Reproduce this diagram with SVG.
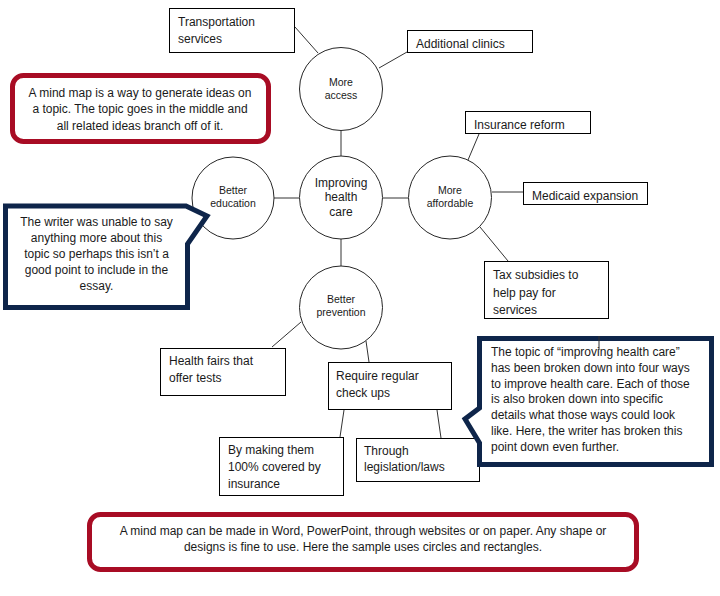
<svg xmlns="http://www.w3.org/2000/svg" width="720" height="596" viewBox="0 0 720 596">
<style>
text{font-family:"Liberation Sans",Arial,sans-serif;fill:#1a1a1a;font-size:12px}
.c{fill:#fff;stroke:#262626;stroke-width:1}
.b{fill:#fff;stroke:#000;stroke-width:1}
.l{stroke:#333;stroke-width:1;fill:none}
.s{font-size:10.5px}
.m{text-anchor:middle}
.red{fill:#fff;stroke:#A80C24;stroke-width:5}
.navy{fill:#fff;stroke:#0E254A;stroke-width:5;stroke-linejoin:miter}
</style>
<rect width="720" height="596" fill="#fff"/>
<g id="connectors">
<line class="l" x1="295" y1="27" x2="318" y2="53"/>
<line class="l" x1="407" y1="52" x2="379" y2="68"/>
<line class="l" x1="341" y1="131" x2="341" y2="156"/>
<line class="l" x1="274" y1="198" x2="299" y2="198"/>
<line class="l" x1="383" y1="198" x2="408" y2="198"/>
<line class="l" x1="341" y1="239" x2="341" y2="266"/>
<line class="l" x1="479" y1="134" x2="468" y2="160"/>
<line class="l" x1="492" y1="192" x2="523" y2="192"/>
<line class="l" x1="480" y1="227" x2="508" y2="261"/>
<line class="l" x1="272" y1="347" x2="301" y2="322"/>
<line class="l" x1="366" y1="341" x2="369" y2="362"/>
<line class="l" x1="344" y1="410" x2="340" y2="437"/>
<line class="l" x1="437" y1="410" x2="441" y2="438"/>
</g>
<g id="note-top">
<rect class="red" x="12.5" y="75.5" width="256" height="66" rx="11"/>
<text class="m" x="140" y="97">A mind map is a way to generate ideas on</text>
<text class="m" x="140" y="113">a topic. The topic goes in the middle and</text>
<text class="m" x="140" y="130">all related ideas branch off of it.</text>
</g>
<g id="transportation">
<rect class="b" x="169.5" y="8.5" width="125" height="44"/>
<text x="178" y="26">Transportation</text>
<text x="178" y="43">services</text>
</g>
<g id="clinics">
<rect class="b" x="407.5" y="30.5" width="125" height="22"/>
<text x="416" y="48">Additional clinics</text>
</g>
<g id="more-access">
<circle class="c" cx="341" cy="89" r="41.5"/>
<text class="s m" x="341" y="86">More</text>
<text class="s m" x="341" y="99">access</text>
</g>
<g id="improving">
<circle class="c" cx="341" cy="197.5" r="41.5"/>
<text class="m" x="341" y="187">Improving</text>
<text class="m" x="341" y="201">health</text>
<text class="m" x="341" y="216">care</text>
</g>
<g id="better-education">
<circle class="c" cx="233" cy="198" r="41"/>
<text class="s m" x="233" y="194">Better</text>
<text class="s m" x="233" y="207">education</text>
</g>
<g id="more-affordable">
<circle class="c" cx="450" cy="197.5" r="41.5"/>
<text class="s m" x="450" y="194">More</text>
<text class="s m" x="450" y="207">affordable</text>
</g>
<g id="insurance">
<rect class="b" x="465.5" y="111.5" width="125" height="22"/>
<text x="474" y="129">Insurance reform</text>
</g>
<g id="medicaid">
<rect class="b" x="523.5" y="182.5" width="124" height="22"/>
<text x="532" y="200">Medicaid expansion</text>
</g>
<g id="tax">
<rect class="b" x="484.5" y="261.5" width="124" height="57"/>
<text x="493" y="279">Tax subsidies to</text>
<text x="493" y="297">help pay for</text>
<text x="493" y="314">services</text>
</g>
<g id="note-left">
<path class="navy" d="M5.5,206 H186 L207,216 L187.5,244 V307.5 H5.5 Z"/>
<text class="m" x="96.5" y="226">The writer was unable to say</text>
<text class="m" x="96.5" y="242">anything more about this</text>
<text class="m" x="96.5" y="258">topic so perhaps this isn’t a</text>
<text class="m" x="96.5" y="274">good point to include in the</text>
<text class="m" x="96.5" y="290">essay.</text>
</g>
<g id="better-prevention">
<circle class="c" cx="341" cy="307.5" r="41.5"/>
<text class="s m" x="341" y="303">Better</text>
<text class="s m" x="341" y="316">prevention</text>
</g>
<g id="health-fairs">
<rect class="b" x="160.5" y="348.5" width="125" height="47"/>
<text x="169" y="365">Health fairs that</text>
<text x="169" y="382">offer tests</text>
</g>
<g id="checkups">
<rect class="b" x="328.5" y="362.5" width="123" height="47"/>
<text x="336" y="380">Require regular</text>
<text x="336" y="397">check ups</text>
</g>
<g id="covered">
<rect class="b" x="219.5" y="437.5" width="124" height="58"/>
<text x="228" y="454">By making them</text>
<text x="228" y="471">100% covered by</text>
<text x="228" y="488">insurance</text>
</g>
<g id="legislation">
<rect class="b" x="356.5" y="438.5" width="123" height="43"/>
<text x="364" y="455">Through</text>
<text x="364" y="471">legislation/laws</text>
</g>
<g id="note-right">
<path class="navy" d="M479.5,338.5 H711.5 V464.5 H479.5 V443 L465,419 L479.5,408 Z"/>
<line class="l" x1="599" y1="336" x2="599" y2="350"/>
<text x="491" y="356">The topic of “improving health care”</text>
<text x="491" y="372">has been broken down into four ways</text>
<text x="491" y="388">to improve health care. Each of those</text>
<text x="491" y="403">is also broken down into specific</text>
<text x="491" y="419">details what those ways could look</text>
<text x="491" y="435">like. Here, the writer has broken this</text>
<text x="491" y="451">point down even further.</text>
</g>
<g id="note-bottom">
<rect class="red" x="89.5" y="514.5" width="547" height="55" rx="11"/>
<text class="m" x="363" y="535">A mind map can be made in Word, PowerPoint, through websites or on paper. Any shape or</text>
<text class="m" x="363" y="551">designs is fine to use. Here the sample uses circles and rectangles.</text>
</g>
</svg>
